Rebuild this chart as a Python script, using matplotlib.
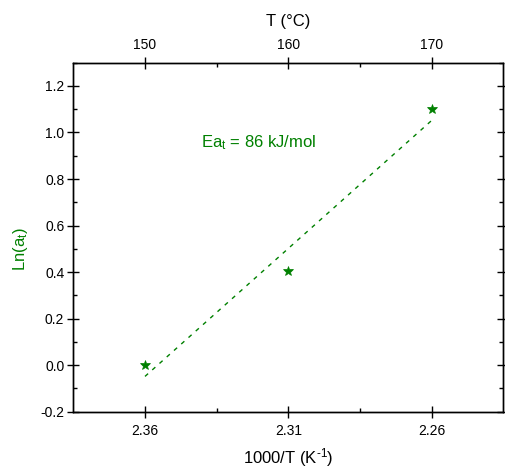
import matplotlib
matplotlib.use("Agg")
import matplotlib.pyplot as plt
import numpy as np
from matplotlib.ticker import FixedLocator, MultipleLocator

plt.rcParams['font.family'] = ['Liberation Sans', 'DejaVu Sans']
plt.rcParams['mathtext.fontset'] = 'custom'
plt.rcParams['mathtext.rm'] = 'Liberation Sans'
plt.rcParams['mathtext.it'] = 'Liberation Sans'
plt.rcParams['mathtext.default'] = 'regular'
plt.rcParams['axes.unicode_minus'] = False

# data
inv_T = [2.36, 2.31, 2.26]          # 1000/T (K^-1)
temps_C = [150, 160, 170]           # T (°C)
ln_at = [0.0, 0.405, 1.10]          # Ln(a_t)
inv_T_labels = ["2.36", "2.31", "2.26"]
y_ticks = [-0.2, 0.0, 0.2, 0.4, 0.6, 0.8, 1.0, 1.2]

green = "#008000"

fig = plt.figure(figsize=(5.06, 4.71), dpi=100)
ax = fig.add_axes([0.1449, 0.1259, 0.9947 - 0.1449, 0.8669 - 0.1259])

ax.plot(inv_T, ln_at, linestyle='none', marker='*', markersize=7.5,
        color=green, markeredgewidth=0.5, zorder=3)

coef = np.polyfit(inv_T, ln_at, 1)
xf = np.array([inv_T[0], inv_T[-1]])
ax.plot(xf, np.polyval(coef, xf), color=green, lw=1.0,
        linestyle=(0, (3, 4)), zorder=2)

ax.set_xlim(2.385, 2.235)
ax.set_ylim(-0.2, 1.3)

ax.set_xticks(inv_T)
ax.set_xticklabels(inv_T_labels)
ax.xaxis.set_minor_locator(FixedLocator([(inv_T[0] + inv_T[1]) / 2,
                                         (inv_T[1] + inv_T[2]) / 2]))
ax.set_yticks(y_ticks)
ax.set_yticklabels([f"{v:.1f}" for v in y_ticks])
ax.yaxis.set_minor_locator(MultipleLocator(0.1))

for sp in ax.spines.values():
    sp.set_linewidth(1.0)

ax.tick_params(which='major', direction='inout', length=9, width=1.0,
               labelsize=10, top=False, right=True, pad=2)
ax.tick_params(which='minor', direction='in', length=3, width=1.0,
               top=False, right=True)
ax.tick_params(axis='x', which='major', pad=4)

ax.set_xlabel(r"1000/T (K$^{\text{-1}}$)", fontsize=12, labelpad=6)
ax.set_ylabel("Ln(a$_{t}$)", fontsize=12, color=green)
ax.yaxis.set_label_coords(-0.101, 0.466)

ax.text(259, 471 - 143, "Ea$_{t}$ = 86 kJ/mol", transform=None, fontsize=12,
        color=green, ha='center', va='center')

# top axis
ax2 = ax.twiny()
ax2.set_xlim(ax.get_xlim())
ax2.set_xticks(inv_T)
ax2.set_xticklabels([str(t) for t in temps_C])
ax2.xaxis.set_minor_locator(FixedLocator([(inv_T[0] + inv_T[1]) / 2,
                                          (inv_T[1] + inv_T[2]) / 2]))
ax2.tick_params(which='major', direction='inout', length=9, width=1.0,
                labelsize=10, pad=3)
ax2.tick_params(which='minor', direction='in', length=3, width=1.0)
ax2.set_xlabel("T (°C)", fontsize=12, labelpad=9)
for sp in ax2.spines.values():
    sp.set_linewidth(1.0)

fig.savefig("out.png", dpi=100)
